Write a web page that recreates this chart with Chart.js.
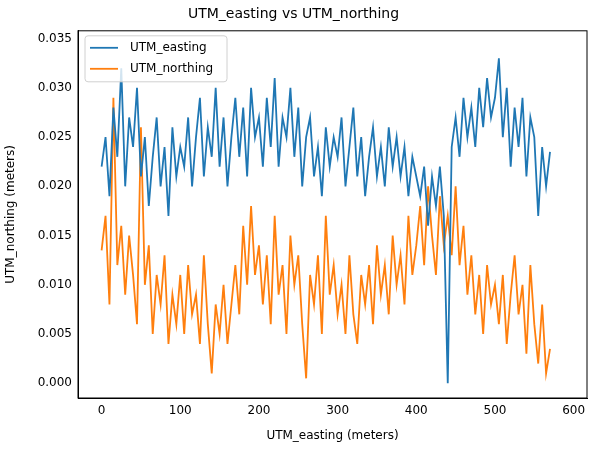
<!DOCTYPE html>
<html>
<head>
<meta charset="utf-8">
<script src="https://cdn.jsdelivr.net/npm/chart.js@4"></script>
<style>
  body { margin: 0; background: #fff; }
  #wrap { width: 598px; height: 453px; }
</style>
</head>
<body>
<div id="wrap"><canvas id="chart" width="598" height="453"></canvas></div>
<script>
// x positions every 5 meters
const xStep = 5;
const eastingValues = [
    .022,.025,.019,.028,.023,.032,.020,.027,.024,.030,.021,
    .025,.018,.023,.027,.020,.024,.017,.026,.021,.024,
    .022,.027,.020,.025,.029,.021,.026,.023,.030,.022,
    .027,.020,.025,.029,.023,.028,.021,.030,.025,.027,
    .022,.029,.024,.031,.022,.027,.025,.030,.023,.028,
    .020,.025,.027,.021,.024,.019,.026,.022,.025,.023,
    .027,.020,.024,.028,.021,.025,.019,.023,.026,.021,
    .024,.020,.026,.022,.025,.021,.024,.019,.023,.021,
    .019,.022,.016,.021,.018,.022,.017,.000,
    .024,.027,.023,.029,.025,.028,.024,.030,.026,.031,.027,.029,
    .033,.025,.030,.022,.028,.024,.029,.021,.027,.025,
    .017,.024,.020,.0235
];
const northingValues = [
    .0135,.017,.008,.029,.012,.016,.009,.015,.011,.006,.026,
    .010,.014,.005,.011,.008,.013,.004,.009,.006,.011,
    .005,.012,.007,.009,.004,.013,.006,.001,.008,.005,
    .010,.004,.008,.012,.007,.016,.010,.018,.011,.014,
    .008,.013,.006,.017,.009,.012,.005,.015,.010,.013,
    .006,.0005,.011,.008,.013,.005,.017,.009,.012,.007,
    .010,.005,.013,.007,.004,.011,.008,.012,.006,.014,
    .009,.012,.007,.015,.010,.013,.008,.017,.011,.014,
    .018,.012,.020,.015,.011,.019,.014,.017,
    .013,.020,.012,.016,.009,.013,.007,.011,.005,.012,.008,.010,
    .006,.011,.004,.009,.013,.007,.010,.003,.012,.006,
    .002,.008,.001,.0035
];
const seriesNames = ['UTM_easting', 'UTM_northing'];
const seriesColors = ['#1f77b4', '#ff7f0e'];
const xTicks = [0, 100, 200, 300, 400, 500, 600];
const yTicks = [0, 0.005, 0.01, 0.015, 0.02, 0.025, 0.03, 0.035];

function toPoints(values) {
    return values.map((v, i) => ({ x: i * xStep, y: v }));
}

const font = { family: 'DejaVu Sans', size: 12 };

// legend box drawn inside the plot, top left
const innerLegend = {
    id: 'innerLegend',
    afterDraw(chart) {
        const ctx = chart.ctx;
        const a = chart.chartArea;
        const x0 = a.left + 7, y0 = a.top + 5;
        ctx.save();
        ctx.fillStyle = 'rgba(255,255,255,0.8)';
        ctx.strokeStyle = '#d0d0d0';
        ctx.lineWidth = 1;
        ctx.beginPath();
        ctx.roundRect(x0, y0, 142, 46, 3);
        ctx.fill();
        ctx.stroke();
        ctx.font = '12px DejaVu Sans';
        ctx.textBaseline = 'middle';
        seriesNames.forEach((name, i) => {
            const y = y0 + 12 + i * 21;
            ctx.strokeStyle = seriesColors[i];
            ctx.lineWidth = 1.8;
            ctx.beginPath();
            ctx.moveTo(x0 + 5, y);
            ctx.lineTo(x0 + 33, y);
            ctx.stroke();
            ctx.fillStyle = '#000';
            ctx.fillText(name, x0 + 45, y);
        });
        ctx.restore();
    }
};

const frame = {
    id: 'frame',
    afterDraw(chart) {
        const a = chart.chartArea;
        const ctx = chart.ctx;
        ctx.save();
        ctx.strokeStyle = '#000';
        ctx.lineWidth = 1;
        ctx.strokeRect(a.left, a.top, a.right - a.left, a.bottom - a.top);
        ctx.restore();
    }
};

new Chart(document.getElementById('chart'), {
    type: 'line',
    data: {
        datasets: [
            { label: seriesNames[0], data: toPoints(eastingValues), borderColor: seriesColors[0], borderWidth: 1.8, pointRadius: 0, tension: 0 },
            { label: seriesNames[1], data: toPoints(northingValues), borderColor: seriesColors[1], borderWidth: 1.8, pointRadius: 0, tension: 0 }
        ]
    },
    options: {
        responsive: false,
        animation: false,
        layout: { padding: { top: 0, right: 11, left: 0, bottom: 0 } },
        plugins: {
            legend: { display: false },
            tooltip: { enabled: false },
            title: { display: true, text: 'UTM_easting vs UTM_northing', color: '#000', font: { family: 'DejaVu Sans', size: 14, weight: 'normal' }, padding: { top: 6, bottom: 8 } }
        },
        scales: {
            x: {
                type: 'linear', min: -30, max: 617,
                grid: { display: false, drawTicks: true, tickLength: 4 },
                border: { color: '#000' },
                afterBuildTicks(s) { s.ticks = xTicks.map(v => ({ value: v })); },
                afterFit(s) { s.height = 55; },
                ticks: { color: '#000', font: font, maxRotation: 0, padding: 2 },
                title: { display: true, text: 'UTM_easting (meters)', color: '#000', font: font, padding: { top: 0, bottom: 10 } }
            },
            y: {
                min: -0.0015, max: 0.0358,
                grid: { display: false, tickLength: 4 },
                border: { color: '#000' },
                afterBuildTicks(s) { s.ticks = yTicks.map(v => ({ value: v })); },
                afterFit(s) { s.width = 78; },
                ticks: { color: '#000', font: font, padding: 2, callback: v => v.toFixed(3) },
                title: { display: true, text: 'UTM_northing (meters)', color: '#000', font: font, padding: { bottom: 2 } }
            }
        }
    },
    plugins: [innerLegend, frame]
});
</script>
</body>
</html>
